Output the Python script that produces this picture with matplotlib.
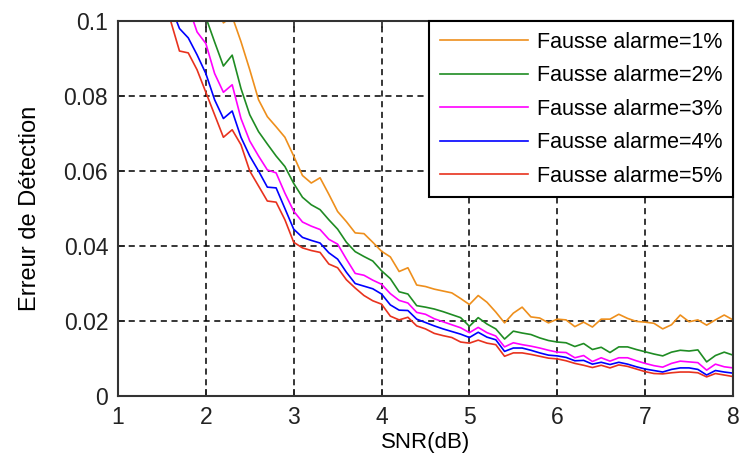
import matplotlib
matplotlib.use("Agg")
import matplotlib.pyplot as plt

plt.rcParams['font.family'] = ['Liberation Sans', 'DejaVu Sans']

snr = [round(1.5 + 0.1 * i, 1) for i in range(66)]

pfa_1 = [0.150, 0.142, 0.134, 0.126, 0.119, 0.112, 0.106, 0.0995, 0.1012, 0.0945,
         0.0870, 0.0790, 0.0745, 0.0718, 0.0690, 0.0640, 0.0588, 0.0568, 0.0582, 0.0538,
         0.0492, 0.0465, 0.0435, 0.0433, 0.0410, 0.0386, 0.0371, 0.0332, 0.0342, 0.0296,
         0.0292, 0.0285, 0.0280, 0.0275, 0.0260, 0.0244, 0.0268, 0.0250, 0.0224, 0.0195,
         0.0221, 0.0237, 0.0211, 0.0208, 0.0195, 0.0205, 0.0203, 0.0185, 0.0197, 0.0184,
         0.0205, 0.0205, 0.0218, 0.0207, 0.0199, 0.0197, 0.0194, 0.0179, 0.0190, 0.0216,
         0.0198, 0.0203, 0.0189, 0.0203, 0.0216, 0.0203]

pfa_2 = [0.140, 0.133, 0.125, 0.118, 0.110, 0.101, 0.0944, 0.088, 0.0909, 0.082,
         0.075, 0.0705, 0.0672, 0.0640, 0.0612, 0.0567, 0.0530, 0.0510, 0.0497, 0.0470,
         0.0445, 0.0410, 0.0385, 0.0372, 0.0360, 0.0334, 0.0313, 0.0278, 0.0272, 0.0241,
         0.0237, 0.0232, 0.0225, 0.0217, 0.0209, 0.0186, 0.0209, 0.0192, 0.0179, 0.0152,
         0.0173, 0.0168, 0.0164, 0.0155, 0.0148, 0.0144, 0.0142, 0.0132, 0.0140, 0.0124,
         0.0130, 0.0116, 0.0131, 0.0131, 0.0124, 0.0118, 0.0112, 0.0107, 0.0117, 0.0122,
         0.0120, 0.0123, 0.0091, 0.0108, 0.0117, 0.0109]

pfa_3 = [0.125, 0.117, 0.111, 0.104, 0.0971, 0.094, 0.086, 0.081, 0.083, 0.074,
         0.068, 0.064, 0.0603, 0.0595, 0.0541, 0.0493, 0.0464, 0.0453, 0.0444, 0.0418,
         0.0405, 0.0365, 0.0327, 0.0322, 0.0309, 0.0298, 0.0273, 0.0255, 0.0248, 0.0223,
         0.0218, 0.0206, 0.0198, 0.0190, 0.0182, 0.0169, 0.0183, 0.0169, 0.0160, 0.0131,
         0.0142, 0.0137, 0.0133, 0.0128, 0.0122, 0.0117, 0.0116, 0.0102, 0.0108, 0.0092,
         0.0102, 0.0093, 0.0102, 0.0102, 0.0094, 0.0087, 0.0081, 0.0077, 0.0087, 0.0093,
         0.0091, 0.0089, 0.0069, 0.0085, 0.0078, 0.0075]

pfa_4 = [0.112, 0.104, 0.098, 0.0955, 0.091, 0.086, 0.079, 0.074, 0.076, 0.069,
         0.064, 0.060, 0.0557, 0.0555, 0.050, 0.0445, 0.0423, 0.0415, 0.0408, 0.0382,
         0.0365, 0.033, 0.030, 0.0293, 0.0286, 0.0272, 0.0243, 0.0229, 0.0228, 0.0205,
         0.0196, 0.0187, 0.0179, 0.0172, 0.0165, 0.0156, 0.0170, 0.0157, 0.0150, 0.0119,
         0.0128, 0.0128, 0.0122, 0.0115, 0.0109, 0.0107, 0.0103, 0.0094, 0.0095, 0.0085,
         0.0090, 0.0084, 0.0090, 0.0085, 0.0078, 0.0072, 0.0068, 0.0064, 0.0071, 0.0075,
         0.0075, 0.0071, 0.0056, 0.0068, 0.0064, 0.0061]

pfa_5 = [0.106, 0.100, 0.092, 0.0915, 0.087, 0.081, 0.075, 0.069, 0.071, 0.067,
         0.060, 0.056, 0.052, 0.0517, 0.047, 0.041, 0.0395, 0.0388, 0.0383, 0.0352,
         0.0342, 0.031, 0.0288, 0.0268, 0.0254, 0.0245, 0.0213, 0.0203, 0.0210, 0.0187,
         0.0179, 0.0167, 0.0161, 0.0156, 0.0144, 0.0141, 0.0149, 0.0141, 0.0137, 0.0106,
         0.0115, 0.0115, 0.0111, 0.0106, 0.0101, 0.0099, 0.0094, 0.0087, 0.0082, 0.0076,
         0.0082, 0.0075, 0.0083, 0.0079, 0.0072, 0.0065, 0.0060, 0.0059, 0.0062, 0.0064,
         0.0064, 0.0062, 0.0051, 0.0060, 0.0056, 0.0052]

labels = ['Fausse alarme=1%', 'Fausse alarme=2%', 'Fausse alarme=3%',
          'Fausse alarme=4%', 'Fausse alarme=5%']
colors = ['#EE8F1C', '#1F8C23', '#FF00FF', '#0000FF', '#E8321E']
series = [pfa_1, pfa_2, pfa_3, pfa_4, pfa_5]

xticks = [1, 2, 3, 4, 5, 6, 7, 8]
yticks = [0, 0.02, 0.04, 0.06, 0.08, 0.1]
ytick_labels = ['0', '0.02', '0.04', '0.06', '0.08', '0.1']

fig = plt.figure(figsize=(7.41, 4.68), dpi=100)
ax = fig.add_axes([0.1592, 0.1538, 0.8300, 0.8013])

for y, c, lab in zip(series, colors, labels):
    ax.plot(snr, y, color=c, lw=1.2, label=lab)

ax.set_xlim(1, 8)
ax.set_ylim(0, 0.1)
ax.set_xticks(xticks)
ax.set_xticklabels([str(t) for t in xticks])
ax.set_yticks(yticks)
ax.set_yticklabels(ytick_labels)
ax.grid(True, color='black', linestyle=(0, (4, 3)), linewidth=1.1)
ax.tick_params(direction='in', length=5, width=1.2, top=True, right=True,
               labelsize=16.5, pad=7, colors='#222222')
for s in ax.spines.values():
    s.set_linewidth(1.5)
    s.set_color('#333333')

ax.set_xlabel('SNR(dB)', fontsize=16, labelpad=2)
ax.set_ylabel('Erreur de Détection', fontsize=17, labelpad=16)

leg = ax.legend(loc='upper right', borderaxespad=0, fontsize=15.5,
                handlelength=4.1, handletextpad=0.4, labelspacing=0.58,
                borderpad=0.5, fancybox=False, framealpha=1)
leg.get_frame().set_edgecolor('black')
leg.get_frame().set_linewidth(1.5)

fig.savefig('out.png', dpi=100)
